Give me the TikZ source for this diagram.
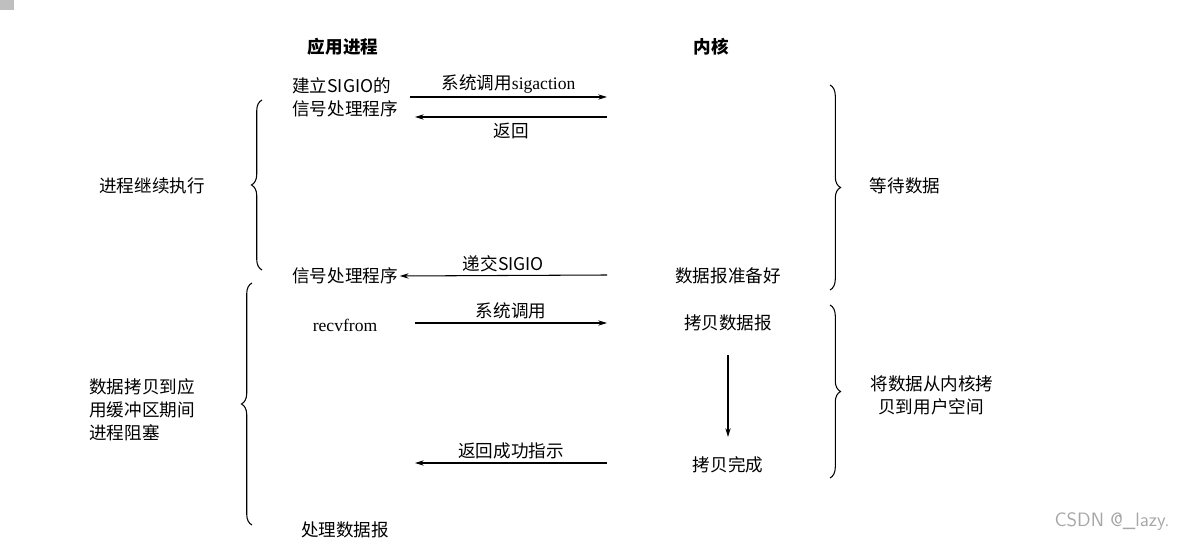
\documentclass[tikz,border=0pt]{standalone}
\usepackage{fontspec}
\setmainfont{Noto Sans CJK SC}
\newfontfamily\latinf{Liberation Serif}
\usetikzlibrary{decorations.pathreplacing,arrows.meta}
\begin{document}
\begin{tikzpicture}[x=0.02cm,y=-0.02cm,
  txt/.style={font=\fontsize{10}{13}\selectfont,inner sep=1pt},
  hd/.style={txt,font=\fontsize{10}{13}\selectfont\bfseries},
  arr/.style={-{Stealth[length=5pt,width=3pt]},line width=0.6pt},
  br/.style={decorate,decoration={brace,amplitude=6pt},line width=0.6pt}]
\useasboundingbox (0,0) rectangle (1196,543);
\fill[gray!50] (0,0) rectangle (14,10);
\node[hd] (ap) at (343,47) {应用进程};
\node[hd] (kn) at (711,47) {内核};
\node[txt,align=left] (setup) at (345,97) {建立SIGIO的\\信号处理程序};
\coordinate (a1s) at (410,97); \coordinate (a1e) at (607,97);
\draw[arr] (a1s) -- node[txt,above=1pt]{系统调用{\latinf sigaction}} (a1e);
\coordinate (a2s) at (607,117); \coordinate (a2e) at (415,117);
\draw[arr] (a2s) -- node[txt,below=2pt]{返回} (a2e);
\draw[br] (262,270) -- (262,100);
\node[txt] (cont) at (152,186) {进程继续执行};
\draw[br] (830,85) -- (830,290);
\node[txt] (wait) at (905,186) {等待数据};
\node[txt] (sig) at (345,276) {信号处理程序};
\node[txt] (ready) at (728,276) {数据报准备好};
\draw[arr] (607,275) -- node[txt,above=1pt]{递交SIGIO} (sig.east);
\node[txt] (recv) at (345,325) {\latinf recvfrom};
\node[txt] (copy) at (728,323) {拷贝数据报};
\draw[arr] (415,323) -- node[txt,above=1pt]{系统调用} (607,323);
\node[txt] (done) at (728,465) {拷贝完成};
\draw[arr] (copy) ++(0,32) coordinate (d1) (d1) -- (728,437) coordinate (d2);
\draw[arr] (607,463) -- node[txt,above=1pt]{返回成功指示} (415,463);
\draw[br] (252,525) -- (252,283);
\node[txt,align=left] (blk) at (142,410) {数据拷贝到应\\用缓冲区期间\\进程阻塞};
\draw[br] (830,305) -- (830,478);
\node[txt,align=left] (cp) at (932,395) {将数据从内核拷\\\ \ 贝到用户空间};
\node[txt] (proc) at (345,530) {处理数据报};
\node[txt,text=gray!70,font=\fontsize{11}{13}\selectfont\sffamily] (csdn) at (1112,522) {CSDN @\_lazy.};
\end{tikzpicture}
\end{document}
